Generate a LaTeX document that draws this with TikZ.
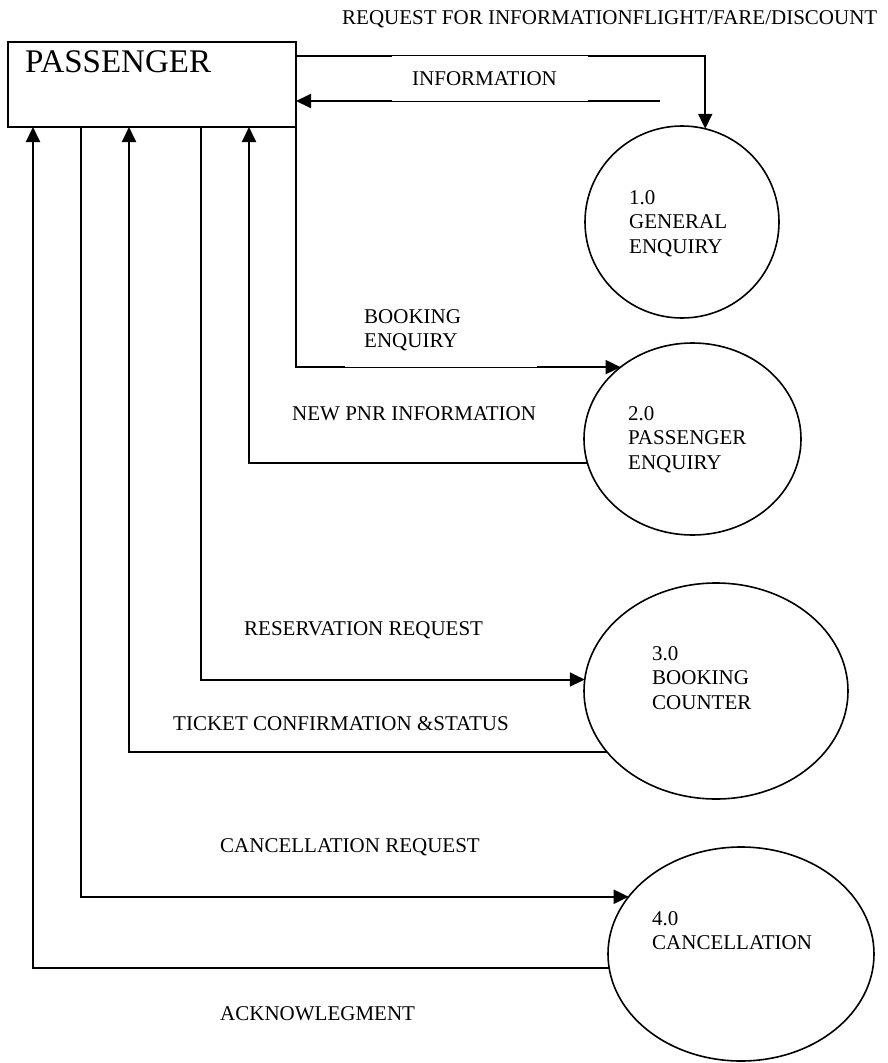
\documentclass[tikz,border=0pt]{standalone}
\usepackage{fontspec}
\setmainfont{Liberation Serif}
\usetikzlibrary{arrows.meta,shapes.geometric}
% left-aligned stack of lines whose baseline is the first line
\newcommand\linestack[1]{\begin{tabular}[t]{@{}l@{}}#1\end{tabular}}

\begin{document}
\begin{tikzpicture}[x=1pt,y=-1pt,
  flow/.style={line width=2pt,-{Triangle[length=15pt,width=14pt]}},
  proc/.style={draw,line width=1.6pt,ellipse,inner sep=0pt,outer sep=0pt},
  entity/.style={draw,line width=2pt,inner sep=0pt,outer sep=0pt},
  lbl/.style={anchor=base west,inner sep=0pt,font=\fontsize{21}{24.5}\selectfont},
  labelbg/.style={fill=white,draw=none},
]
\useasboundingbox (0,0) rectangle (888,1063);

% external entity
\node[entity,minimum width=288pt,minimum height=85pt] (pass) at (152,84.5) {};
\node[anchor=base west,inner sep=0pt,font=\fontsize{33}{36}\selectfont] (ptext) at (25,72) {PASSENGER};

% processes
\node[proc,minimum width=194pt,minimum height=192pt] (c1) at (682,222) {};
\node[proc,minimum width=217pt,minimum height=192pt] (c2) at (692.5,439) {};
\node[proc,minimum width=264pt,minimum height=216pt] (c3) at (716,691) {};
\node[proc,minimum width=266pt,minimum height=214pt] (c4) at (741,954) {};

\node[lbl] (t1) at (629,204) {\linestack{1.0\\GENERAL\\ENQUIRY}};
\node[lbl] (t2) at (628,420) {\linestack{2.0\\PASSENGER\\ENQUIRY}};
\node[lbl] (t3) at (652,660) {\linestack{3.0\\BOOKING\\COUNTER}};
\node[lbl] (t4) at (652,925) {\linestack{4.0\\CANCELLATION}};

% data flows
\draw[flow] ([yshift=-14pt]pass.north east) -| (c1.76);
\coordinate (infofrom) at (660,101);
\draw[flow] (infofrom) -- (pass.east |- infofrom);
\draw[flow] (pass.south east) |- (c2.135);
\draw[flow] (c2.193) -| ([xshift=241pt]pass.south west);
\draw[flow] ([xshift=193pt]pass.south west) |- (c3.175);
\draw[flow] (c3.209) -| ([xshift=121pt]pass.south west);
\draw[flow] ([xshift=73pt]pass.south west) |- (c4.153);
\draw[flow] (c4.186) -| ([xshift=25pt]pass.south west);

% label boxes laid over the flow lines
\path[labelbg] (392,56) rectangle (588,101);
\path[labelbg] (345,300) rectangle (537,367);

% flow labels
\node[lbl] (lreq) at (342,24) {REQUEST FOR INFORMATIONFLIGHT/FARE/DISCOUNT};
\node[lbl] (linfo) at (412,85) {INFORMATION};
\node[lbl] (lbook) at (364,323) {\linestack{BOOKING\\ENQUIRY}};
\node[lbl] (lpnr) at (292,420) {NEW PNR INFORMATION};
\node[lbl] (lres) at (244,635) {RESERVATION REQUEST};
\node[lbl] (ltick) at (173,730) {TICKET CONFIRMATION \&STATUS};
\node[lbl] (lcan) at (220,852) {CANCELLATION REQUEST};
\node[lbl] (lack) at (220,1020) {ACKNOWLEGMENT};
\end{tikzpicture}
\end{document}
